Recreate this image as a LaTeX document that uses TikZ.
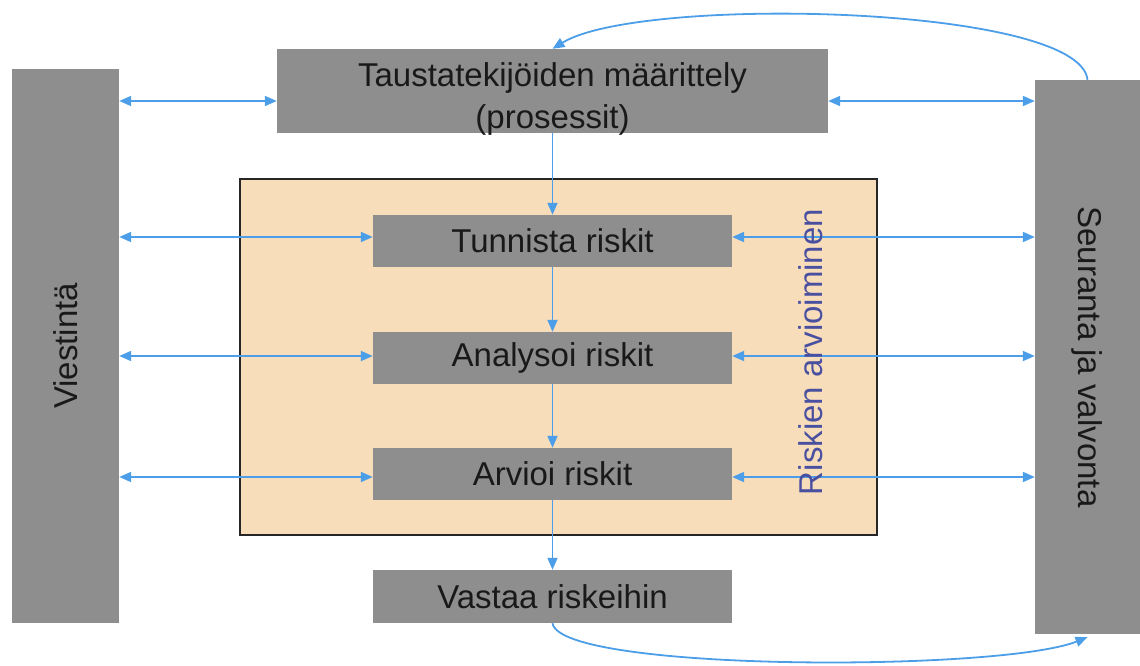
\documentclass[tikz,border=0pt]{standalone}
\usepackage{fontspec}
\setmainfont{Liberation Sans}
\usetikzlibrary{arrows.meta}
\definecolor{boxgray}{RGB}{142,142,142}
\definecolor{peach}{RGB}{248,221,187}
\definecolor{linkblue}{RGB}{76,158,232}
\definecolor{labelblue}{RGB}{74,80,160}
\tikzset{
  box/.style={fill=boxgray, draw=none, inner sep=0pt, font=\fontsize{33}{42}\selectfont, text=black!90},
  txt/.style={inner sep=0pt, font=\fontsize{33}{42}\selectfont, text=black!90},
  arr/.style={draw=linkblue, line width=1.8pt, -{Triangle[length=12pt,width=10pt]}},
  dbl/.style={draw=linkblue, line width=1.8pt, {Triangle[length=12pt,width=10pt]}-{Triangle[length=12pt,width=10pt]}},
}
\begin{document}
\begin{tikzpicture}[x=1pt,y=-1pt]
\useasboundingbox (0,0) rectangle (1140,666);
% frame of risk assessment
\node[fill=peach, draw=black!85, line width=1.5pt, minimum width=637pt, minimum height=356pt, inner sep=0pt] (frame) at (558.5,357) {};
% boxes
\node[box, minimum width=107pt, minimum height=554pt] (vie) at (65.5,346) {};
\node[txt, rotate=90] (vieT) at (vie.center) {Viestintä};
\node[box, minimum width=105pt, minimum height=554pt] (seu) at (1087.5,357) {};
\node[txt, rotate=-90] (seuT) at (seu.center) {Seuranta ja valvonta};
\node[box, minimum width=551pt, minimum height=84pt] (taus) at (552.5,91) {};
\node[txt, align=center] (tausT) at (552.5,99) {Taustatekijöiden määrittely\\(prosessit)};
\node[box, minimum width=359pt, minimum height=52pt] (tun) at (552.5,241) {Tunnista riskit};
\node[box, minimum width=359pt, minimum height=52pt] (ana) at (552.5,358) {Analysoi riskit};
\node[box, minimum width=359pt, minimum height=52pt] (arv) at (552.5,474) {Arvioi riskit};
\node[box, minimum width=359pt, minimum height=53pt] (vas) at (552.5,596.5) {Vastaa riskeihin};
% horizontal double arrows
\draw[dbl] ([yshift=-10pt]taus.west -| vie.east) -- ([yshift=-10pt]taus.west);
\draw[dbl] ([yshift=-10pt]taus.east) -- ([yshift=-10pt]taus.east -| seu.west);
\draw[dbl] ([yshift=4pt]tun.west -| vie.east) -- ([yshift=4pt]tun.west);
\draw[dbl] ([yshift=4pt]tun.east) -- ([yshift=4pt]tun.east -| seu.west);
\draw[dbl] ([yshift=2pt]ana.west -| vie.east) -- ([yshift=2pt]ana.west);
\draw[dbl] ([yshift=2pt]ana.east) -- ([yshift=2pt]ana.east -| seu.west);
\draw[dbl] ([yshift=-3pt]arv.west -| vie.east) -- ([yshift=-3pt]arv.west);
\draw[dbl] ([yshift=-3pt]arv.east) -- ([yshift=-3pt]arv.east -| seu.west);
% label drawn over lines
\node[inner sep=0pt, rotate=90, text=labelblue, font=\fontsize{33}{40}\selectfont] (riskT) at (811,352) {Riskien arvioiminen};
% vertical arrows
\draw[arr] (taus.south) -- (tun.north);
\draw[arr] (tun.south) -- (ana.north);
\draw[arr] (ana.south) -- (arv.north);
\draw[arr] (arv.south) -- (vas.north);
% feedback curves
\draw[arr] (seu.north) .. controls (1080,5) and (640,-5) .. (taus.north);
\draw[arr] (vas.south) .. controls (560,672) and (1000,672) .. ([yshift=-3pt]seu.south);
\end{tikzpicture}
\end{document}
